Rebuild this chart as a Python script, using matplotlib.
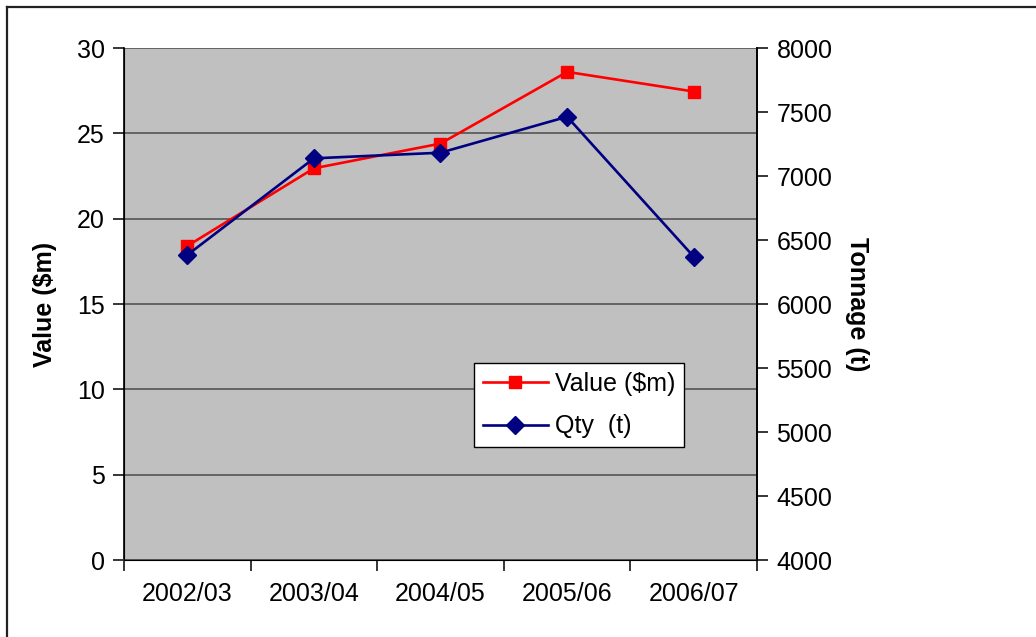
import matplotlib
matplotlib.use("Agg")
import matplotlib.pyplot as plt
from matplotlib.lines import Line2D
import numpy as np

plt.rcParams['font.family'] = ['Liberation Sans', 'DejaVu Sans']

# financial years and the two series
years = ["2002/03", "2003/04", "2004/05", "2005/06", "2006/07"]
value_m = [18.4, 22.95, 24.4, 28.6, 27.45]
qty_t = [6383, 7138, 7182, 7463, 6370]

fs = 18
fig = plt.figure(figsize=(10.36, 6.37), dpi=100)
fig.patch.set_facecolor("white")

# chart border (left and top edges only show)
fig.add_artist(Line2D([7/1036, 7/1036], [0, 1 - 7/637], color="#222222", lw=1.6))
fig.add_artist(Line2D([7/1036, 1.0], [1 - 7/637, 1 - 7/637], color="#222222", lw=1.6))

ax = fig.add_axes([124/1036, 77/637, 633/1036, 512/637])
ax.set_facecolor("#c0c0c0")
x = np.arange(len(years))

ax.set_xlim(-0.5, len(years) - 0.5)
ax.set_ylim(0, 30)
ax.set_yticks(np.arange(0, 31, 5))
ax.grid(axis="y", color="#555555", lw=1.2)
ax.set_axisbelow(True)

ax.set_xticks(x)
ax.set_xticklabels(years, fontsize=fs)
ax.set_xticks(np.arange(-0.5, len(years)), minor=True)
ax.tick_params(axis="x", which="major", length=0, pad=16)
ax.tick_params(axis="x", which="minor", length=8, width=1.1, color="black", direction="out")
ax.tick_params(axis="y", labelsize=fs, length=8, width=1.1, direction="out", pad=6)

ax.spines["top"].set_visible(False)
ax.spines["left"].set_linewidth(1.2)
ax.spines["right"].set_linewidth(1.2)
ax.spines["bottom"].set_color("#555555")
ax.spines["bottom"].set_linewidth(1.2)

ax.set_ylabel("Value ($m)", fontsize=fs, fontweight="bold", labelpad=14)

ax2 = ax.twinx()
ax2.set_ylim(4000, 8000)
ax2.set_yticks(np.arange(4000, 8001, 500))
ax2.tick_params(axis="y", labelsize=fs, length=8, width=1.1, direction="out", pad=6)
ax2.spines["top"].set_visible(False)
ax2.spines["right"].set_linewidth(1.2)
ax2.set_ylabel("Tonnage (t)", fontsize=fs, fontweight="bold", rotation=270, labelpad=26)

# value series is drawn on the tonnage scale: 0..30 maps onto 4000..8000
l1, = ax2.plot(x, [v * (4000 / 30) + 4000 for v in value_m], color="#ff0000", lw=1.9,
               marker="s", ms=9, mec="#ff0000", label="Value ($m)")
l2, = ax2.plot(x, qty_t, color="#000080", lw=1.9, marker="D", ms=9,
               mec="#000080", label="Qty  (t)")

leg = ax2.legend(handles=[l1, l2], loc="upper left",
                 bbox_to_anchor=((474 - 124) / 633, (560 - 363) / 512),
                 fontsize=fs, frameon=True, fancybox=False, framealpha=1,
                 edgecolor="black", borderpad=0.35, handlelength=2.6,
                 handletextpad=0.3, labelspacing=0.75, borderaxespad=0)
leg.get_frame().set_linewidth(1.0)

fig.savefig("out.png", dpi=100)
